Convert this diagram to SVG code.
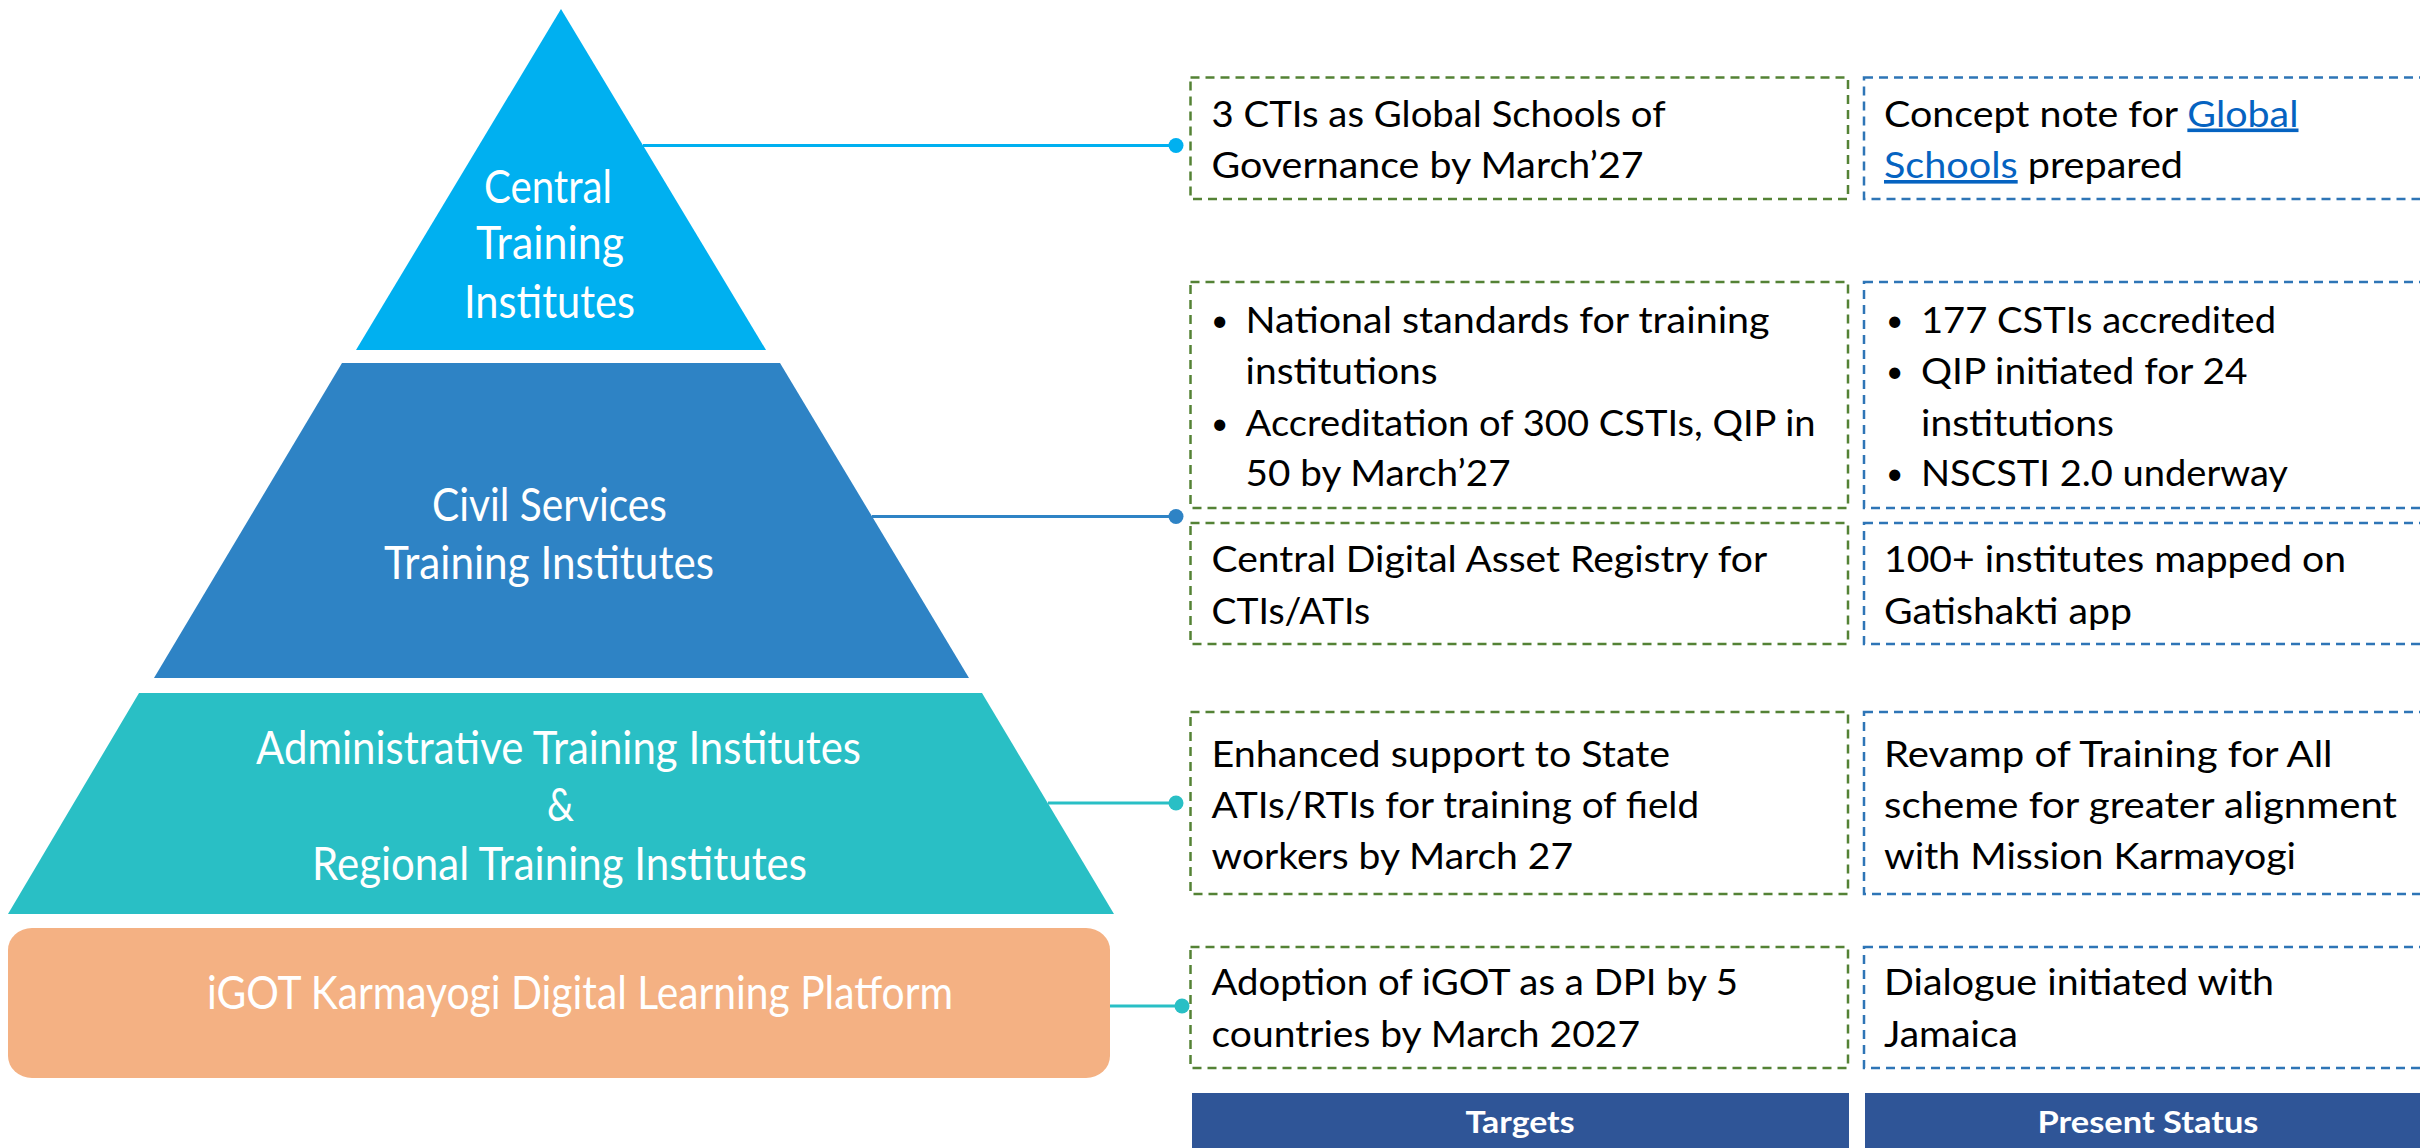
<svg xmlns="http://www.w3.org/2000/svg" width="2420" height="1148" viewBox="0 0 2420 1148">
<style>
.pt{font-family:Lato,"Open Sans","Liberation Sans",sans-serif;font-size:47px;fill:#fff;text-anchor:middle;font-weight:400}
.bt{font-family:Lato,"Liberation Sans",sans-serif;font-size:36px;fill:#000}
.bl{font-family:Lato,"Liberation Sans",sans-serif;font-size:30px;fill:#000}
.link{fill:#0563C1;text-decoration:underline}
.gb{fill:#fff;stroke:#548235;stroke-width:2.5;stroke-dasharray:9 6}
.bb{fill:#fff;stroke:#2E75B6;stroke-width:2.5;stroke-dasharray:9 6}
.hd{fill:#2F5597}
.ht{font-family:Lato,"Liberation Sans",sans-serif;font-size:31px;font-weight:bold;fill:#fff;text-anchor:middle}
</style>
<rect width="2420" height="1148" fill="#fff"/>

<g id="cti">
<polygon points="561,9 766,350 356,350" fill="#00B0F0"/>
<text class="pt" x="548" y="203" textLength="128" lengthAdjust="spacingAndGlyphs">Central</text>
<text class="pt" x="550" y="259" textLength="148" lengthAdjust="spacingAndGlyphs">Training</text>
<text class="pt" x="549.5" y="318" textLength="171" lengthAdjust="spacingAndGlyphs">Institutes</text>
</g>
<g id="csti">
<polygon points="342,363 780,363 969,678 154,678" fill="#2E83C5"/>
<text class="pt" x="549.5" y="521" textLength="235" lengthAdjust="spacingAndGlyphs">Civil Services</text>
<text class="pt" x="549" y="579" textLength="330" lengthAdjust="spacingAndGlyphs">Training Institutes</text>
</g>
<g id="ati">
<polygon points="139,693 982,693 1114,914 8,914" fill="#29BFC5"/>
<text class="pt" x="558.5" y="764" textLength="605" lengthAdjust="spacingAndGlyphs">Administrative Training Institutes</text>
<text class="pt" x="560.5" y="821" textLength="27" lengthAdjust="spacingAndGlyphs">&amp;</text>
<text class="pt" x="559.5" y="880" textLength="495" lengthAdjust="spacingAndGlyphs">Regional Training Institutes</text>
</g>
<g id="igot">
<rect x="8" y="928" width="1102" height="150" rx="24" ry="22" fill="#F4B183"/>
<text class="pt" x="580" y="1009" textLength="746" lengthAdjust="spacingAndGlyphs">iGOT Karmayogi Digital Learning Platform</text>
</g>

<g id="connectors">
<line x1="643" y1="145.5" x2="1176" y2="145.5" stroke="#00B0F0" stroke-width="3"/>
<circle cx="1176" cy="145.5" r="7.5" fill="#00B0F0"/>
<line x1="872" y1="516.5" x2="1176" y2="516.5" stroke="#2E83C5" stroke-width="3"/>
<circle cx="1176" cy="516.5" r="7.5" fill="#2E83C5"/>
<line x1="1048" y1="803" x2="1176" y2="803" stroke="#29BFC5" stroke-width="3"/>
<circle cx="1176" cy="803" r="7.5" fill="#29BFC5"/>
<line x1="1110" y1="1006" x2="1182" y2="1006" stroke="#29BFC5" stroke-width="3"/>
<circle cx="1182" cy="1006" r="7.5" fill="#29BFC5"/>
</g>

<g id="target1">
<rect class="gb" x="1190.5" y="77.5" width="657.5" height="121.5"/>
<text class="bt" x="1211.6" y="126.5" textLength="454" lengthAdjust="spacingAndGlyphs">3 CTIs as Global Schools of</text>
<text class="bt" x="1211.6" y="178" textLength="432" lengthAdjust="spacingAndGlyphs">Governance by March’27</text>
</g>
<g id="status1">
<rect class="bb" x="1864" y="77.5" width="570" height="121.5"/>
<text class="bt" x="1884" y="126.5" textLength="414.5" lengthAdjust="spacingAndGlyphs">Concept note for <tspan class="link">Global</tspan></text>
<text class="bt" x="1884" y="178" textLength="299" lengthAdjust="spacingAndGlyphs"><tspan class="link">Schools</tspan> prepared</text>
</g>

<g id="target2">
<rect class="gb" x="1190.5" y="282" width="657.5" height="226"/>
<text class="bl" x="1211" y="331">•</text>
<text class="bt" x="1245.6" y="333" textLength="524" lengthAdjust="spacingAndGlyphs">National standards for training</text>
<text class="bt" x="1245.6" y="384" textLength="192" lengthAdjust="spacingAndGlyphs">institutions</text>
<text class="bl" x="1211" y="434">•</text>
<text class="bt" x="1245.6" y="436" textLength="570" lengthAdjust="spacingAndGlyphs">Accreditation of 300 CSTIs, QIP in</text>
<text class="bt" x="1245.6" y="486" textLength="265" lengthAdjust="spacingAndGlyphs">50 by March’27</text>
</g>
<g id="status2">
<rect class="bb" x="1864" y="282" width="570" height="226"/>
<text class="bl" x="1886" y="331">•</text>
<text class="bt" x="1921" y="333" textLength="355" lengthAdjust="spacingAndGlyphs">177 CSTIs accredited</text>
<text class="bl" x="1886" y="382">•</text>
<text class="bt" x="1921" y="384" textLength="326.5" lengthAdjust="spacingAndGlyphs">QIP initiated for 24</text>
<text class="bt" x="1921" y="436" textLength="193" lengthAdjust="spacingAndGlyphs">institutions</text>
<text class="bl" x="1886" y="484">•</text>
<text class="bt" x="1921" y="486" textLength="367" lengthAdjust="spacingAndGlyphs">NSCSTI 2.0 underway</text>
</g>

<g id="target3">
<rect class="gb" x="1190.5" y="523" width="657.5" height="121"/>
<text class="bt" x="1211.6" y="572" textLength="555.5" lengthAdjust="spacingAndGlyphs">Central Digital Asset Registry for</text>
<text class="bt" x="1211.6" y="624" textLength="158.5" lengthAdjust="spacingAndGlyphs">CTIs/ATIs</text>
</g>
<g id="status3">
<rect class="bb" x="1864" y="523" width="570" height="121"/>
<text class="bt" x="1884" y="572" textLength="462" lengthAdjust="spacingAndGlyphs">100+ institutes mapped on</text>
<text class="bt" x="1884" y="624" textLength="248" lengthAdjust="spacingAndGlyphs">Gatishakti app</text>
</g>

<g id="target4">
<rect class="gb" x="1190.5" y="712" width="657.5" height="182"/>
<text class="bt" x="1211.6" y="767" textLength="458.5" lengthAdjust="spacingAndGlyphs">Enhanced support to State</text>
<text class="bt" x="1211.6" y="818" textLength="487.5" lengthAdjust="spacingAndGlyphs">ATIs/RTIs for training of field</text>
<text class="bt" x="1211.6" y="869" textLength="361.5" lengthAdjust="spacingAndGlyphs">workers by March 27</text>
</g>
<g id="status4">
<rect class="bb" x="1864" y="712" width="570" height="182"/>
<text class="bt" x="1884" y="767" textLength="448.6" lengthAdjust="spacingAndGlyphs">Revamp of Training for All</text>
<text class="bt" x="1884" y="818" textLength="513" lengthAdjust="spacingAndGlyphs">scheme for greater alignment</text>
<text class="bt" x="1884" y="869" textLength="412" lengthAdjust="spacingAndGlyphs">with Mission Karmayogi</text>
</g>

<g id="target5">
<rect class="gb" x="1190.5" y="947" width="657.5" height="121"/>
<text class="bt" x="1211.6" y="995" textLength="526.5" lengthAdjust="spacingAndGlyphs">Adoption of iGOT as a DPI by 5</text>
<text class="bt" x="1211.6" y="1046.5" textLength="428.5" lengthAdjust="spacingAndGlyphs">countries by March 2027</text>
</g>
<g id="status5">
<rect class="bb" x="1864" y="947" width="570" height="121"/>
<text class="bt" x="1884" y="995" textLength="390" lengthAdjust="spacingAndGlyphs">Dialogue initiated with</text>
<text class="bt" x="1884" y="1046.5" textLength="134" lengthAdjust="spacingAndGlyphs">Jamaica</text>
</g>

<g id="header-targets">
<rect class="hd" x="1192" y="1093" width="657" height="60"/>
<text class="ht" x="1520" y="1133" textLength="109" lengthAdjust="spacingAndGlyphs">Targets</text>
</g>
<g id="header-status">
<rect class="hd" x="1865" y="1093" width="570" height="60"/>
<text class="ht" x="2148" y="1133" textLength="221" lengthAdjust="spacingAndGlyphs">Present Status</text>
</g>
</svg>
